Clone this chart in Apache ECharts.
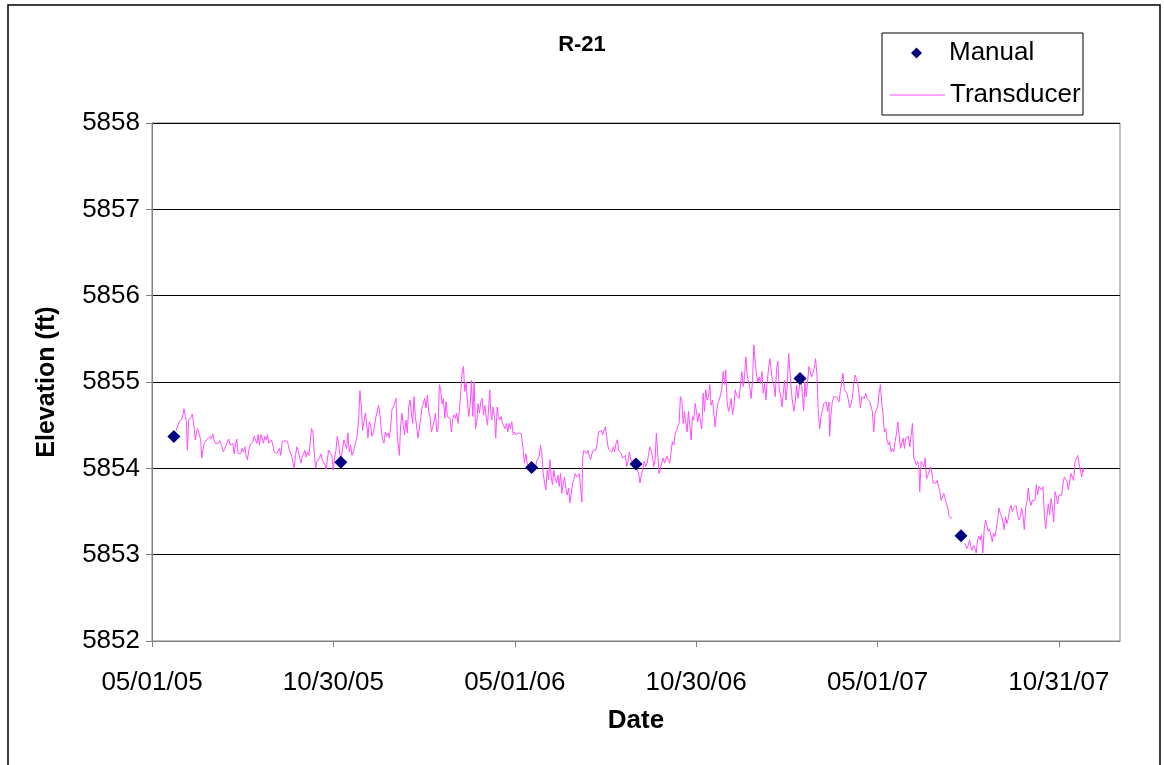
<!DOCTYPE html>
<html>
<head>
<meta charset="utf-8">
<title>R-21</title>
<script src="https://cdn.jsdelivr.net/npm/echarts@6/dist/echarts.min.js"></script>
<style>
  html, body { margin: 0; padding: 0; background: #fff; }
  #chart { width: 1164px; height: 765px; }
</style>
</head>
<body>
<div id="chart"></div>
<script>
// days counted from 05/01/05
const tickDays = [0, 182.5, 365, 547.5, 730, 912.5];
const tickLabels = ['05/01/05', '10/30/05', '05/01/06', '10/30/06', '05/01/07', '10/31/07'];

// manual measurements [day, elevation ft]
const manual = [
  [22, 5854.37], [190, 5854.07], [382, 5854.01],
  [487, 5854.05], [652, 5855.04], [814, 5853.22]
];

// transducer record before the data gap [day, elevation ft]
const transducerA = [
  [24.5,5854.44],[27.2,5854.54],[29.5,5854.56],[31.2,5854.62],[32.2,5854.69],[33.6,5854.60],[34.6,5854.54],[35.6,5854.21],
  [36.9,5854.56],[38.3,5854.54],[39.6,5854.60],[40.6,5854.63],[41.6,5854.54],[42.3,5854.48],[43.6,5854.33],[44.7,5854.41],
  [45.7,5854.46],[47.0,5854.42],[48.0,5854.44],[49.0,5854.33],[50.0,5854.12],[51.0,5854.19],[52.4,5854.29],[53.7,5854.31],
  [55.1,5854.33],[56.4,5854.31],[58.1,5854.37],[59.8,5854.34],[61.1,5854.40],[62.5,5854.33],[63.8,5854.29],[64.8,5854.27],
  [65.8,5854.31],[67.2,5854.29],[68.2,5854.32],[69.2,5854.29],[70.5,5854.31],[71.9,5854.19],[73.2,5854.23],[74.5,5854.25],
  [75.9,5854.31],[77.2,5854.34],[78.6,5854.27],[79.9,5854.25],[81.3,5854.29],[82.6,5854.17],[84.0,5854.27],[85.3,5854.34],
  [86.6,5854.17],[88.0,5854.19],[89.3,5854.17],[90.7,5854.23],[92.0,5854.19],[93.4,5854.25],[94.7,5854.15],[96.0,5854.10],
  [97.4,5854.21],[98.7,5854.27],[100.1,5854.29],[101.4,5854.31],[102.8,5854.37],[104.1,5854.35],[105.5,5854.29],[106.8,5854.39],
  [108.1,5854.27],[109.5,5854.39],[110.8,5854.35],[112.2,5854.29],[113.5,5854.37],[114.9,5854.33],[116.2,5854.39],[117.5,5854.29],
  [118.9,5854.27],[120.2,5854.33],[121.6,5854.27],[122.9,5854.19],[124.3,5854.21],[125.6,5854.17],[127.0,5854.19],[128.3,5854.23],
  [129.6,5854.15],[131.0,5854.31],[132.3,5854.33],[133.7,5854.32],[135.0,5854.33],[136.4,5854.31],[137.7,5854.23],[139.0,5854.25],
  [140.4,5854.15],[141.7,5854.08],[143.1,5854.00],[144.4,5854.15],[145.8,5854.25],[147.1,5854.21],[148.5,5854.13],[149.8,5854.06],
  [151.1,5854.13],[152.5,5854.17],[153.8,5854.21],[155.2,5854.13],[156.5,5854.19],[157.9,5854.15],[159.2,5854.17],[160.5,5854.46],
  [161.9,5854.42],[163.2,5854.19],[164.6,5854.00],[165.9,5854.08],[167.3,5854.06],[168.6,5854.12],[170.0,5854.17],[171.3,5854.10],
  [172.6,5854.12],[174.0,5854.04],[175.3,5853.99],[176.7,5854.13],[178.0,5854.21],
  [179.7,5854.17],[181.0,5854.14],[182.4,5853.98],[183.7,5854.12],[185.1,5854.21],[186.4,5854.37],[187.7,5854.29],[189.1,5854.15],
  [190.4,5854.12],[191.8,5854.23],[193.1,5854.33],[194.5,5854.35],[195.8,5854.23],[197.1,5854.41],[198.5,5854.19],[199.8,5854.27],
  [201.2,5854.15],[202.5,5854.19],[203.9,5854.17],[205.2,5854.31],[206.5,5854.39],[207.9,5854.56],[209.2,5854.90],[210.6,5854.73],
  [211.9,5854.44],[213.3,5854.54],[214.6,5854.64],[216.0,5854.52],[217.3,5854.35],[218.6,5854.54],[220.0,5854.50],[221.3,5854.37],
  [222.7,5854.41],[224.0,5854.41],[225.4,5854.60],[226.7,5854.58],[228.0,5854.73],[229.4,5854.62],[230.7,5854.44],[232.1,5854.33],
  [233.4,5854.29],[234.8,5854.42],[236.1,5854.37],[237.5,5854.41],[238.8,5854.35],[240.1,5854.48],[241.5,5854.68],[242.8,5854.66],
  [244.2,5854.75],[245.5,5854.81],[246.9,5854.35],[248.2,5854.23],[248.9,5854.15],[250.2,5854.50],[251.6,5854.64],[252.9,5854.48],
  [254.2,5854.39],[255.6,5854.56],[256.9,5854.41],[258.3,5854.71],[259.6,5854.79],[261.0,5854.64],[262.3,5854.52],[263.7,5854.83],
  [265.0,5854.60],[266.3,5854.48],[267.7,5854.35],[269.0,5854.35],[270.4,5854.58],[271.7,5854.70],[273.1,5854.70],[274.4,5854.81],
  [275.7,5854.70],[277.1,5854.85],[278.4,5854.66],[279.8,5854.60],[281.1,5854.42],[282.5,5854.42],[283.8,5854.54],[285.2,5854.64],
  [286.5,5854.42],[287.8,5854.46],[289.2,5854.97],[290.5,5854.91],[291.9,5854.75],[293.2,5854.81],[294.6,5854.58],[295.9,5854.77],
  [297.2,5854.60],[298.6,5854.58],[299.9,5854.58],[301.3,5854.42],[302.6,5854.58],[304.0,5854.62],[305.3,5854.58],[306.6,5854.64],
  [308.0,5854.52],[309.3,5854.66],[310.7,5854.89],[312.0,5855.10],[313.4,5855.18],[314.7,5854.89],[316.1,5855.00],[317.4,5854.77],
  [318.7,5854.60],[320.1,5854.73],[321.4,5855.02],[322.8,5854.60],[324.1,5855.00],[325.5,5854.46],[326.8,5854.54],[328.1,5854.75],
  [329.5,5854.64],[330.8,5854.77],[332.2,5854.81],[333.5,5854.62],[334.9,5854.73],[336.2,5854.60],[337.6,5854.50],
  [339.9,5854.91],[340.9,5854.64],[341.9,5854.56],[343.2,5854.71],[344.6,5854.60],[345.9,5854.35],[347.3,5854.71],[348.6,5854.60],
  [350.0,5854.56],[351.3,5854.60],[352.7,5854.52],[354.0,5854.54],[355.3,5854.46],[356.7,5854.52],[358.0,5854.42],[359.4,5854.52],
  [360.7,5854.46],[362.1,5854.54],[363.4,5854.39],[364.7,5854.42],[366.1,5854.39],[367.4,5854.40],[368.8,5854.41],[370.1,5854.42],
  [371.5,5854.40],[372.8,5854.40],[373.5,5854.21],[374.8,5854.06],[376.2,5854.17],[377.5,5854.06],[378.9,5853.98],[380.2,5854.02],
  [381.5,5854.00],[382.9,5854.02],[384.2,5854.04],[385.6,5853.98],[386.9,5854.08],[388.3,5854.10],[389.6,5854.14],[390.9,5854.27],
  [392.3,5854.17],[393.6,5853.94],[395.0,5853.83],[396.3,5853.75],[397.7,5853.98],[399.0,5853.87],[400.4,5854.10],[401.7,5853.90],
  [403.0,5853.81],[404.4,5853.98],[405.7,5853.88],[407.1,5853.83],[408.4,5853.92],[409.8,5853.79],[411.1,5853.94],[412.4,5853.71],
  [413.8,5853.83],[415.1,5853.90],[416.5,5853.77],[417.8,5853.69],[419.2,5853.77],[420.5,5853.60],[421.9,5853.71],[423.2,5853.83],
  [424.5,5853.87],[425.9,5853.94],[427.2,5853.90],[428.6,5853.92],[429.9,5853.94],[431.3,5853.94],[432.6,5853.61],[433.3,5854.12],
  [434.6,5854.21],[436.0,5854.19],[437.3,5854.17],[438.6,5854.21],[440.0,5854.14],[441.3,5854.10],[442.7,5854.17],[444.0,5854.21],
  [445.4,5854.19],[446.7,5854.21],[448.1,5854.31],[449.4,5854.42],[450.7,5854.40],[452.1,5854.44],[453.4,5854.39],[454.8,5854.39],
  [456.1,5854.48],[457.5,5854.37],[458.8,5854.25],[460.1,5854.21],[461.5,5854.23],[462.8,5854.19],[464.2,5854.25],[465.5,5854.19],
  [466.9,5854.29],[468.2,5854.33],[469.5,5854.21],[470.9,5854.19],[472.2,5854.17],[473.6,5854.12],[474.9,5854.14],[476.3,5854.15],
  [477.6,5854.02],[478.9,5854.08],[480.3,5854.19],[481.6,5854.17],[483.0,5854.04],[484.3,5854.10],[488.4,5853.98],[489.7,5853.94],
  [491.0,5853.83],[492.4,5853.92],[493.7,5853.90],
  [495.4,5854.08],[496.8,5854.02],[498.1,5854.06],[499.5,5854.15],[500.8,5854.25],[502.2,5854.23],[503.5,5854.15],[504.8,5854.02],
  [506.2,5854.10],[507.5,5854.41],[508.9,5854.39],[510.2,5853.94],[511.6,5854.00],[512.9,5854.06],[514.2,5854.12],[515.6,5854.06],
  [516.9,5854.08],[518.3,5854.14],[519.6,5854.10],[521.0,5854.06],[522.3,5854.19],[523.6,5854.31],[525.0,5854.27],[526.3,5854.39],
  [527.7,5854.44],[529.0,5854.48],[530.4,5854.52],[531.7,5854.83],[533.1,5854.79],[534.4,5854.52],[535.7,5854.66],[537.1,5854.68],
  [538.4,5854.42],[539.8,5854.66],[541.1,5854.68],[542.5,5854.33],[543.8,5854.60],[545.1,5854.56],[546.5,5854.75],[547.8,5854.66],
  [549.2,5854.54],[550.5,5854.64],[551.9,5854.66],[553.2,5854.46],[554.6,5854.87],[555.9,5854.66],[557.2,5854.91],[558.6,5854.79],
  [559.9,5854.83],[561.3,5854.97],[562.6,5854.73],[564.0,5854.79],[565.3,5854.64],[566.6,5854.48],[568.0,5854.64],[569.3,5854.75],
  [570.7,5854.79],[572.0,5854.85],[573.4,5854.93],[574.7,5855.12],[576.1,5854.97],[577.4,5855.14],[578.7,5854.77],[580.1,5854.66],
  [581.4,5854.71],[582.8,5854.81],[584.1,5854.62],[585.5,5854.71],[586.8,5854.91],[588.1,5854.85],[589.5,5854.87],[590.8,5854.81],
  [592.2,5854.98],[593.5,5855.12],[594.9,5854.95],[596.2,5855.06],[597.5,5855.29],[598.9,5855.08],[600.2,5855.00],[601.6,5854.93],
  [602.9,5854.81],[604.3,5855.02],[605.6,5855.43],[607.0,5855.22],[608.3,5855.08],[609.6,5855.00],[611.0,5855.06],[612.3,5854.98],
  [613.7,5855.12],[615.0,5854.87],[616.4,5854.98],[617.7,5854.79],[619.0,5855.00],[620.4,5855.16],[621.7,5855.27],[623.1,5855.27],
  [624.4,5855.00],[625.8,5854.96],[627.1,5854.83],[628.5,5855.16],[629.8,5855.24],[631.1,5854.91],[632.5,5854.85],[633.8,5854.71],
  [635.2,5854.87],[636.5,5855.02],[637.9,5854.79],[639.2,5854.96],[640.6,5855.33],[641.9,5855.35],[643.2,5854.91],[644.6,5854.75],
  [645.9,5854.66],[647.3,5854.79],[648.6,5854.96],[650.0,5854.81],
  [651.6,5854.97],[653.0,5855.04],[654.3,5854.87],[655.7,5854.67],[657.0,5855.00],[658.3,5854.83],[659.7,5854.85],[661.0,5855.18],
  [662.4,5855.18],[663.7,5855.06],[665.1,5855.06],[666.4,5855.16],[667.7,5855.27],[669.1,5855.08],[670.4,5854.66],[671.8,5854.46],
  [673.1,5854.60],[674.5,5854.66],[675.8,5854.75],[677.1,5854.73],[678.5,5854.77],[679.8,5854.66],[681.2,5854.77],[681.8,5854.37],
  [683.2,5854.62],[684.5,5854.77],[685.9,5854.83],[687.2,5854.85],[688.6,5854.83],[689.9,5854.85],[691.3,5854.77],[692.6,5854.89],
  [693.9,5855.00],[695.3,5855.10],[696.6,5854.91],[698.0,5854.89],[699.3,5854.87],[700.7,5854.79],[702.0,5854.70],[703.3,5854.75],
  [704.7,5854.81],[706.0,5854.97],[707.4,5855.08],[708.7,5855.04],[710.1,5854.98],[711.4,5854.87],[712.8,5854.70],[714.1,5854.83],
  [715.4,5854.85],[716.8,5854.81],[718.1,5854.87],[719.5,5854.81],[720.8,5854.83],[722.2,5854.77],[723.5,5854.75],[724.8,5854.66],
  [726.2,5854.42],[727.5,5854.64],[728.9,5854.64],[730.2,5854.71],[731.6,5854.87],[732.9,5854.97],[734.3,5854.75],[735.6,5854.62],
  [736.9,5854.42],[738.3,5854.46],[739.6,5854.33],[741.0,5854.27],[742.3,5854.31],[743.7,5854.19],[745.0,5854.23],[746.3,5854.19],
  [747.7,5854.31],[749.0,5854.39],[750.4,5854.54],[751.7,5854.39],[753.1,5854.23],[754.4,5854.21],[755.8,5854.35],[757.1,5854.23],
  [758.4,5854.35],[759.8,5854.33],[761.1,5854.37],[762.5,5854.25],[763.8,5854.27],[765.2,5854.52],[766.5,5854.12],[767.8,5854.08],
  [769.2,5854.04],[770.5,5854.08],[771.9,5853.96],[772.5,5853.73],[773.9,5854.08],[775.2,5854.10],[776.6,5854.02],[777.9,5854.12],
  [779.3,5853.88],[780.6,5853.92],[782.0,5853.96],[783.3,5854.02],[784.6,5853.96],[786.0,5853.83],[787.3,5853.85],[788.7,5853.83],
  [790.0,5853.86],[791.4,5853.85],[792.7,5853.73],[794.0,5853.63],[795.4,5853.65],[796.7,5853.71],[798.1,5853.65],[799.4,5853.59],
  [800.8,5853.54],[802.1,5853.44],[804.1,5853.43],[805.1,5853.42]
];

// transducer record after the data gap [day, elevation ft]
const transducerB = [
  [817.6,5853.13],[818.6,5853.15],[819.9,5853.07],[821.3,5853.11],[822.6,5853.17],[824.0,5853.09],[825.3,5853.05],[826.6,5853.11],
  [828.0,5853.07],[829.3,5853.02],[830.7,5853.17],[832.0,5853.21],[833.4,5853.17],[834.7,5853.23],[836.0,5853.02],[837.4,5853.30],
  [838.7,5853.40],[840.1,5853.34],[841.4,5853.27],[842.8,5853.30],[844.1,5853.29],[845.5,5853.15],[846.8,5853.25],[848.1,5853.21],
  [849.5,5853.29],[850.8,5853.40],[852.2,5853.54],[853.5,5853.48],[854.9,5853.44],[856.2,5853.38],[857.5,5853.29],[858.9,5853.44],
  [860.2,5853.36],[861.6,5853.42],[862.9,5853.52],[864.3,5853.57],[865.6,5853.50],[866.9,5853.54],[868.3,5853.52],[869.6,5853.57],
  [871.0,5853.46],[872.3,5853.40],[873.7,5853.44],[875.0,5853.54],[876.4,5853.46],[877.7,5853.29],[879.0,5853.54],[880.4,5853.61],
  [881.7,5853.77],[883.1,5853.63],[884.4,5853.57],[885.8,5853.63],[887.1,5853.65],[888.5,5853.63],[889.8,5853.81],[891.1,5853.69],
  [892.5,5853.79],[893.8,5853.79],[895.2,5853.75],[896.5,5853.79],[897.9,5853.46],[899.2,5853.30],[900.5,5853.29],[901.9,5853.59],
  [903.2,5853.46],[904.6,5853.65],[905.9,5853.56],[907.3,5853.38],[908.6,5853.73],[910.0,5853.67],[911.3,5853.59],[912.6,5853.69],
  [914.0,5853.67],[915.3,5853.69],[916.7,5853.83],[918.0,5853.90],[919.4,5853.92],[920.7,5853.85],[922.0,5853.75],[923.4,5853.75],
  [924.7,5853.94],[926.1,5853.96],[927.4,5853.86],[928.8,5854.08],[930.1,5854.10],[931.5,5854.15],[932.8,5854.06],[934.1,5854.08],
  [935.5,5853.90],[936.8,5854.00],[937.5,5853.96]
];

const chartDom = document.getElementById('chart');
const myChart = echarts.init(chartDom);
const FONT = '"Liberation Sans", Arial, sans-serif';

let option = {
  animation: false,
  backgroundColor: '#fff',
  title: {
    text: 'R-21',
    left: 'center',
    top: 34,
    padding: 0,
    textStyle: { fontFamily: FONT, fontSize: 22, fontWeight: 'bold', color: '#000' }
  },
  legend: [
    {
      data: ['Manual'],
      left: 911,
      top: 40,
      padding: 0,
      itemWidth: 11,
      itemHeight: 11,
      textStyle: { fontFamily: FONT, fontSize: 26, color: '#000', padding: [0, 0, 0, 22] }
    },
    {
      data: [{ name: 'Transducer', icon: 'rect' }],
      left: 890,
      top: 82,
      padding: 0,
      itemWidth: 55,
      itemHeight: 1,
      textStyle: { fontFamily: FONT, fontSize: 26, color: '#000' }
    }
  ],
  graphic: [
    {
      type: 'rect',
      shape: { x: 882, y: 33, width: 201, height: 82 },
      style: { fill: 'none', stroke: '#000', lineWidth: 1 }
    },
    {
      type: 'rect',
      shape: { x: 8, y: 5, width: 1152, height: 800 },
      style: { fill: 'none', stroke: '#000', lineWidth: 1.5 }
    }
  ],
  grid: {
    left: 152,
    right: 44,
    top: 123,
    bottom: 124,
    show: true,
    borderColor: '#808080',
    borderWidth: 1
  },
  xAxis: {
    type: 'value',
    min: 0,
    max: 974,
    name: 'Date',
    nameLocation: 'middle',
    nameGap: 67,
    nameTextStyle: { fontFamily: FONT, fontSize: 26, fontWeight: 'bold', color: '#000' },
    axisLine: { lineStyle: { color: '#808080', width: 1 } },
    axisTick: { show: true, inside: false, length: 6, customValues: tickDays, lineStyle: { color: '#808080' } },
    axisLabel: {
      customValues: tickDays,
      margin: 29,
      fontFamily: FONT,
      fontSize: 26,
      color: '#000',
      formatter: (v) => {
        const i = tickDays.indexOf(v);
        return i >= 0 ? tickLabels[i] : '';
      }
    },
    splitLine: { show: false }
  },
  yAxis: {
    type: 'value',
    min: 5852,
    max: 5858,
    interval: 1,
    name: 'Elevation (ft)',
    nameLocation: 'middle',
    nameGap: 92,
    nameTextStyle: { fontFamily: FONT, fontSize: 25, fontWeight: 'bold', color: '#000' },
    axisLine: { show: true, lineStyle: { color: '#808080', width: 1 } },
    axisTick: { show: true, inside: false, length: 6, lineStyle: { color: '#808080' } },
    axisLabel: {
      margin: 12,
      fontFamily: FONT,
      fontSize: 26,
      color: '#000',
      formatter: (v) => String(v)
    },
    splitLine: { show: true, lineStyle: { color: '#000', width: 1 } }
  },
  series: [
    {
      name: 'Manual',
      type: 'scatter',
      symbol: 'diamond',
      symbolSize: 13,
      itemStyle: { color: '#000080', opacity: 1 },
      data: manual,
      z: 3
    },
    {
      name: 'Transducer',
      type: 'line',
      symbol: 'none',
      connectNulls: false,
      lineStyle: { color: '#ff4dff', width: 1 },
      itemStyle: { color: '#ff4dff' },
      data: transducerA.concat([[811, null]], transducerB),
      z: 2
    }
  ]
};

myChart.setOption(option);
window.addEventListener('resize', () => myChart.resize());
</script>
</body>
</html>
